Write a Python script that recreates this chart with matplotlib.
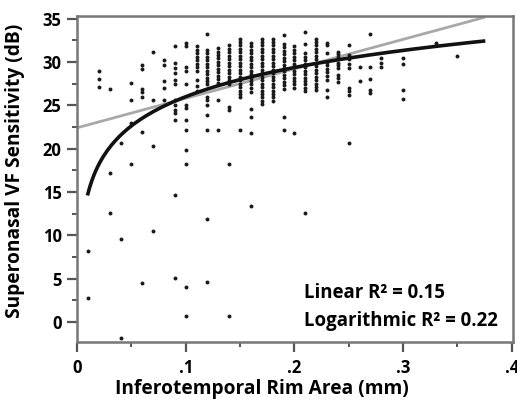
import numpy as np
import matplotlib
matplotlib.use("Agg")
import matplotlib.pyplot as plt
from matplotlib.ticker import MultipleLocator, FixedLocator

plt.rcParams['font.family'] = ['Open Sans', 'DejaVu Sans']

# rim area columns (mm) and the sensitivities (dB) measured in each column
col_x = [0.01, 0.02, 0.03, 0.04, 0.05, 0.06, 0.07, 0.08, 0.09, 0.10,
         0.11, 0.12, 0.13, 0.14, 0.15, 0.16, 0.17, 0.18, 0.19, 0.20,
         0.21, 0.22, 0.23, 0.24, 0.25, 0.26, 0.27, 0.28, 0.30, 0.33, 0.35]
col_y = [
    [8.2, 2.8],
    [28.9, 28.0, 27.1],
    [26.9, 17.2, 12.6],
    [20.7, 9.6, -1.8],
    [27.6, 25.6, 23.0, 18.2],
    [29.7, 29.2, 26.9, 26.5, 26.0, 21.9, 4.5],
    [31.1, 25.6, 20.3, 10.5],
    [30.2, 29.6, 27.8, 27.0, 25.6],
    [31.8, 29.9, 29.3, 28.7, 27.9, 27.4, 25.6, 25.0, 24.5, 24.1, 23.3, 14.6, 5.1],
    [32.2, 31.8, 29.4, 28.9, 27.5, 25.0, 24.7, 23.3, 22.1, 19.8, 18.2, 4.0, 0.7],
    [31.8, 31.4, 31.0, 30.6, 30.2, 29.8, 29.4, 29.0, 27.9, 27.2, 26.6],
    [33.2, 31.4, 31.0, 30.6, 30.2, 29.8, 29.4, 29.0, 28.6, 28.2, 27.8, 27.4,
     26.0, 25.6, 25.0, 23.9, 22.2, 11.9, 4.6],
    [31.6, 31.2, 30.8, 30.4, 30.0, 29.6, 29.2, 28.8, 28.4, 28.0, 27.6, 25.6, 22.2],
    [31.9, 31.5, 31.1, 30.7, 30.3, 29.9, 29.5, 29.1, 28.7, 28.3, 27.9, 27.5,
     24.8, 24.4, 18.2, 0.7],
    [32.7, 32.3, 31.9, 31.5, 31.1, 30.7, 30.3, 29.9, 29.5, 29.1, 28.7, 28.3,
     27.9, 27.5, 27.1, 26.7, 26.3, 26.0, 22.2],
    [32.2, 31.8, 31.4, 31.0, 30.6, 30.2, 29.8, 29.4, 29.0, 28.6, 28.2, 27.8,
     27.4, 27.0, 26.5, 24.6, 23.7, 21.8, 13.4],
    [32.7, 32.3, 31.9, 31.5, 31.1, 30.7, 30.3, 29.9, 29.5, 29.1, 28.7, 28.3,
     27.9, 27.5, 27.1, 26.7, 26.3, 25.9, 25.5, 25.2],
    [32.7, 32.3, 31.9, 31.5, 31.1, 30.7, 30.3, 29.9, 29.5, 29.1, 28.7, 28.3,
     27.9, 27.5, 27.1, 26.7, 26.3, 25.9, 25.5],
    [33.1, 32.1, 31.7, 31.3, 30.9, 30.5, 30.1, 29.7, 29.3, 28.9, 28.5, 28.1,
     27.7, 27.3, 26.9, 23.7, 22.1],
    [31.8, 31.4, 31.0, 30.6, 30.2, 29.8, 29.4, 29.0, 28.6, 28.2, 27.8, 27.4,
     27.0, 21.8],
    [33.5, 32.1, 31.0, 30.6, 30.2, 29.8, 29.4, 29.0, 28.6, 28.2, 27.8, 27.4,
     27.0, 26.6, 12.6],
    [32.7, 32.3, 31.9, 31.5, 31.1, 30.7, 30.3, 29.9, 29.5, 29.1, 28.7, 28.3,
     27.9, 27.5, 27.1, 26.8],
    [32.2, 31.9, 31.0, 30.0, 29.6, 29.2, 28.8, 28.4, 27.9, 26.8, 25.9],
    [31.2, 30.9, 30.6, 29.9, 29.6, 29.3, 28.5, 28.1, 27.7],
    [31.9, 30.8, 30.3, 29.8, 29.3, 27.0, 26.6, 26.2, 20.7],
    [29.4, 27.8],
    [33.2, 29.4, 28.0, 26.8, 26.4],
    [30.4, 29.9, 29.4],
    [30.4, 29.8, 26.8, 25.7],
    [32.2],
    [30.7],
]

# fitted curves
lin_a, lin_b = 22.4, 34.0          # y = a + b*x
log_a, log_b = 37.18, 4.86         # y = a + b*ln(x)
fit_start, fit_end = 0.01, 0.374

rim_area = np.concatenate([[x] * len(ys) for x, ys in zip(col_x, col_y)])
sensitivity = np.concatenate(col_y)

fig = plt.figure(figsize=(5.17, 4.04), dpi=100)
ax = fig.add_axes([0.149, 0.1535, 0.843, 0.807])

ax.scatter(rim_area, sensitivity, s=8, color='#1a1a1a', linewidths=0, zorder=3)

xl = np.linspace(0, fit_end, 50)
ax.plot(xl, lin_a + lin_b * xl, color='#a8a8a8', lw=2, zorder=2)
xg = np.linspace(fit_start, fit_end, 200)
ax.plot(xg, log_a + log_b * np.log(xg), color='#111111', lw=2.6, zorder=4)

ax.set_xlim(0, 0.401)
ax.set_ylim(-2.3, 35.3)

ax.xaxis.set_major_locator(FixedLocator([0, 0.1, 0.2, 0.3, 0.4]))
ax.set_xticklabels(['0', '.1', '.2', '.3', '.4'])
ax.xaxis.set_minor_locator(MultipleLocator(0.05))
ax.yaxis.set_major_locator(MultipleLocator(5))
ax.yaxis.set_minor_locator(MultipleLocator(2.5))
ax.set_ylim(-2.3, 35.3)

for s in ax.spines.values():
    s.set_color('#777777')
    s.set_linewidth(1.8)
ax.tick_params(which='major', length=7.5, width=1.6, color='#555555', pad=3.6,
               labelsize=12)
ax.tick_params(axis='x', which='major', pad=5)
ax.tick_params(which='minor', length=3.8, width=1.4, color='#555555')
for lab in ax.get_xticklabels() + ax.get_yticklabels():
    lab.set_fontweight('bold')

ax.set_xlabel('Inferotemporal Rim Area (mm)', fontsize=13.8, fontweight='bold', va='center')
ax.set_ylabel('Superonasal VF Sensitivity (dB)', fontsize=13.8, fontweight='bold', va='center')
ax.xaxis.set_label_coords(0.425, -0.144)
ax.yaxis.set_label_coords(-0.142, 0.525)

ax.text(0.209, 3.35, 'Linear R² = 0.15', fontsize=13.4, fontweight='bold',
        va='center', ha='left')
ax.text(0.209, 0.1, 'Logarithmic R² = 0.22', fontsize=13.4, fontweight='bold',
        va='center', ha='left')

fig.savefig('out.png', dpi=100)
